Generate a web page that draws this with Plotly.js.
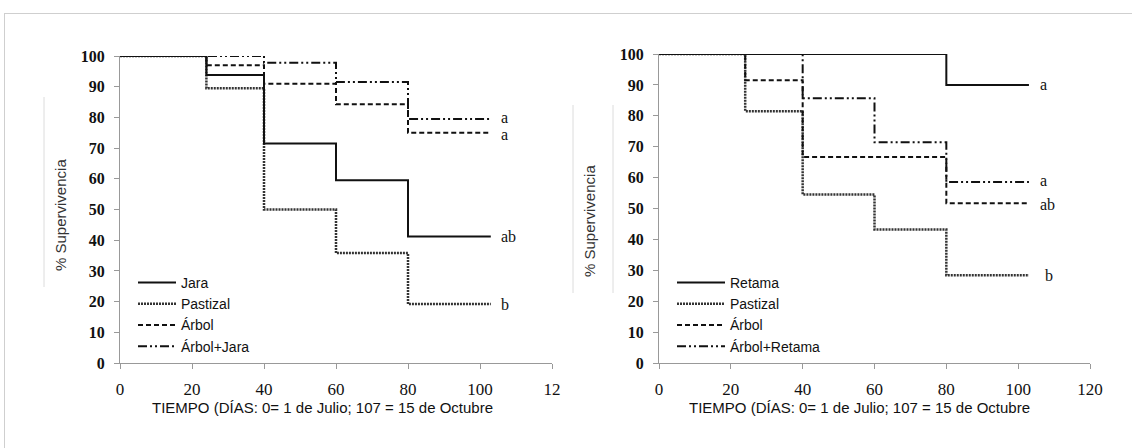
<!DOCTYPE html>
<html>
<head>
<meta charset="utf-8">
<script src="https://cdn.plot.ly/plotly-3.0.1.min.js"></script>
<style>
  html, body { margin: 0; padding: 0; background: #fff; }
  #wrap { position: relative; width: 1132px; height: 448px; overflow: hidden; }
  #frame { position: absolute; left: 4px; top: 13px; width: 1300px; height: 600px;
           border: 1px solid #cfcfcf; pointer-events: none; z-index: 5; }
  #chart { position: absolute; left: 0; top: 0; width: 1132px; height: 448px; }
</style>
</head>
<body>
<div id="wrap">
  <div id="chart"></div>
  <div id="frame"></div>
</div>
<script>
// ---- Data ----
const days = [0, 24, 40, 60, 80, 103];

// Left panel
const leftNames = ['Jara', 'Pastizal', 'Árbol', 'Árbol+Jara'];
const jara      = [100, 93.8, 71.5, 59.5, 41.2, 41.2];
const pastizalL = [100, 89.5, 50.0, 35.8, 19.2, 19.2];
const arbolL    = [100, 97.0, 91.0, 84.3, 75.0, 75.0];
const arbolJara = [100, 100, 97.8, 91.5, 79.5, 79.5];
const leftLetters = ['ab', 'b', 'a', 'a'];

// Right panel
const rightNames = ['Retama', 'Pastizal', 'Árbol', 'Árbol+Retama'];
const retama      = [100, 100, 100, 100, 90.0, 90.0];
const pastizalR   = [100, 81.5, 54.5, 43.2, 28.4, 28.4];
const arbolR      = [100, 91.5, 66.7, 66.7, 51.7, 51.7];
const arbolRetama = [100, 100, 85.7, 71.4, 58.6, 58.6];
const rightLetters = ['a', 'b', 'ab', 'a'];

const xTickVals = [0, 20, 40, 60, 80, 100, 120];
const xTickTextL = ['0', '20', '40', '60', '80', '100', '12'];
const xTickTextR = ['0', '20', '40', '60', '80', '100', '120'];
const yTitle = '% Supervivencia';
const xTitle = 'TIEMPO (DÍAS: 0= 1 de Julio; 107 = 15 de Octubre';

// ---- Styles ----
const W = 1132, H = 448;
const px = v => v / W;
const py = v => 1 - v / H;

const styles = [
  {color: '#111', dash: 'solid', width: 2},
  {color: '#333', dash: '2px,1px', width: 2.5},
  {color: '#111', dash: '5px,3px', width: 2},
  {color: '#111', dash: '9px,3px,2px,3px,2px,3px', width: 2}
];
const drawOrder = [1, 2, 3, 0]; // draw solid black last

function makeTraces(seriesList, names, xa, ya, legendId) {
  const out = [];
  drawOrder.forEach(i => {
    out.push({
      x: days, y: seriesList[i], name: names[i],
      type: 'scatter', mode: 'lines',
      line: Object.assign({shape: 'hv'}, styles[i]),
      xaxis: xa, yaxis: ya, legend: legendId, legendrank: i + 1,
      hoverinfo: 'skip'
    });
  });
  return out;
}

const leftSeries = [jara, pastizalL, arbolL, arbolJara];
const rightSeries = [retama, pastizalR, arbolR, arbolRetama];

const traces = [].concat(
  makeTraces(leftSeries, leftNames, 'x', 'y', 'legend'),
  makeTraces(rightSeries, rightNames, 'x2', 'y2', 'legend2')
);

const serif = 'Liberation Serif, Times New Roman, serif';
const sans = 'Liberation Sans, Arial, sans-serif';

function xAxis(domain, ticktext, anchor) {
  return {
    domain: domain, range: [0, 120], anchor: anchor,
    tickmode: 'array', tickvals: xTickVals, ticktext: ticktext,
    showline: true, linecolor: '#999', linewidth: 1,
    ticks: 'outside', ticklen: 5, tickcolor: '#999',
    showgrid: false, zeroline: false, automargin: false,
    ticklabelstandoff: 6,
    tickfont: {family: serif, size: 17, color: '#111'}
  };
}
function yAxis(domain, anchor) {
  return {
    domain: domain, range: [0, 100], anchor: anchor,
    tickmode: 'linear', tick0: 0, dtick: 10,
    showline: true, linecolor: '#999', linewidth: 1,
    ticks: 'outside', ticklen: 5, tickcolor: '#999',
    showgrid: false, zeroline: false, automargin: false,
    ticklabelstandoff: 6,
    tickfont: {family: serif, size: 16, color: '#111', weight: 'bold'}
  };
}

// small vertical nudges (px) so stacked letters do not collide
const leftShift = [0, 0, -2, 1];
const rightShift = [0, 0, -1, 1];

const annotations = [];
leftSeries.forEach((s, i) => {
  annotations.push({xref: 'x', yref: 'y', x: 105.5, y: s[s.length - 1], text: leftLetters[i],
    showarrow: false, xanchor: 'left', yanchor: 'middle', yshift: leftShift[i], borderpad: 0,
    font: {family: serif, size: 16, color: '#111'}});
});
rightSeries.forEach((s, i) => {
  annotations.push({xref: 'x2', yref: 'y2', x: i === 1 ? 107.3 : 105.8, y: s[s.length - 1], text: rightLetters[i],
    showarrow: false, xanchor: 'left', yanchor: 'middle', yshift: rightShift[i], borderpad: 0,
    font: {family: serif, size: 16, color: '#111'}});
});
// axis titles
[[60, 215], [589, 221]].forEach(p => {
  annotations.push({xref: 'paper', yref: 'paper', x: px(p[0]), y: py(p[1]), text: yTitle,
    textangle: -90, showarrow: false, xanchor: 'center', yanchor: 'middle',
    font: {family: sans, size: 15, color: '#333'}});
});
[[323, 407], [859, 407]].forEach(p => {
  annotations.push({xref: 'paper', yref: 'paper', x: px(p[0]), y: py(p[1]), text: xTitle,
    showarrow: false, xanchor: 'center', yanchor: 'middle',
    font: {family: sans, size: 15, color: '#111'}});
});

const shapes = [
  {type: 'line', xref: 'paper', yref: 'paper', x0: px(44), x1: px(44), y0: py(97), y1: py(287),
   line: {color: '#dcdcdc', width: 1}},
  {type: 'line', xref: 'paper', yref: 'paper', x0: px(573), x1: px(573), y0: py(105), y1: py(293),
   line: {color: '#dcdcdc', width: 1}},
  {type: 'line', xref: 'paper', yref: 'paper', x0: px(613), x1: px(613), y0: py(105), y1: py(293),
   line: {color: '#dcdcdc', width: 1}}
];

const legendBase = {
  xanchor: 'left', yanchor: 'top', bgcolor: 'rgba(0,0,0,0)', borderwidth: 0,
  font: {family: sans, size: 14, color: '#111'}, tracegroupgap: 0, traceorder: 'normal'
};

const layout = {
  width: W, height: H,
  margin: {l: 0, r: 0, t: 0, b: 0},
  paper_bgcolor: '#fff', plot_bgcolor: '#fff',
  showlegend: true,
  xaxis: xAxis([px(120), px(552)], xTickTextL, 'y'),
  yaxis: yAxis([py(363), py(56)], 'x'),
  xaxis2: xAxis([px(659), px(1090)], xTickTextR, 'y2'),
  yaxis2: yAxis([py(363), py(54)], 'x2'),
  legend: Object.assign({x: px(133), y: py(267), itemwidth: 38}, legendBase),
  legend2: Object.assign({x: px(672), y: py(267), itemwidth: 48}, legendBase),
  annotations: annotations,
  shapes: shapes
};

Plotly.newPlot('chart', traces, layout, {staticPlot: true, displayModeBar: false});
</script>
</body>
</html>
